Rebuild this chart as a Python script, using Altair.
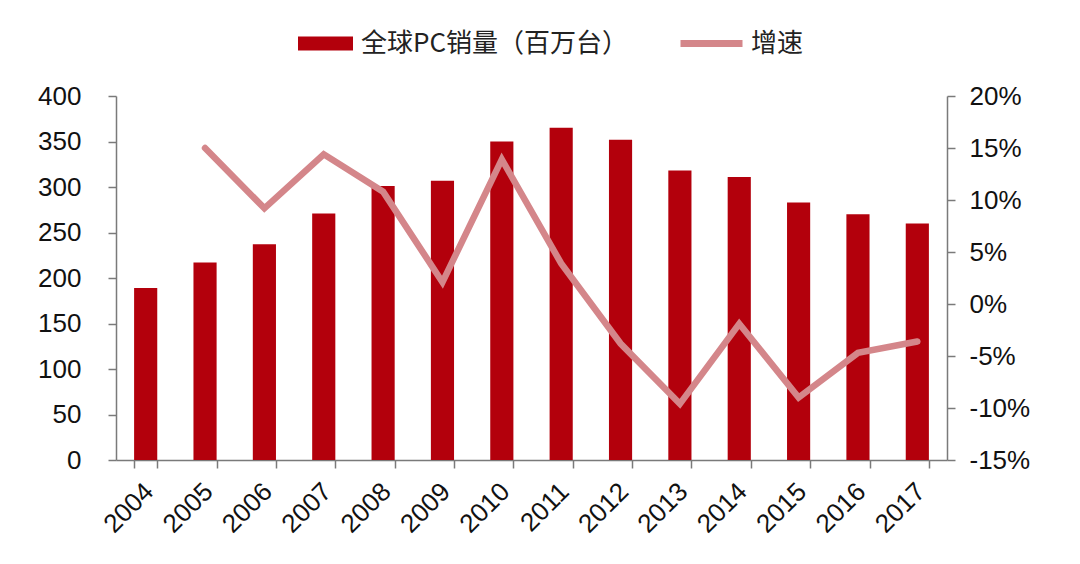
import altair as alt
import pandas as pd

years = ["2004", "2005", "2006", "2007", "2008", "2009", "2010",
         "2011", "2012", "2013", "2014", "2015", "2016", "2017"]
sales = [189, 217, 237, 271, 301, 307, 350, 365, 352, 318, 311, 283, 270, 260]
growth = [None, 15.0, 9.2, 14.4, 10.8, 2.1, 13.9, 3.9, -3.8, -9.6, -1.9, -9.0, -4.7, -3.6]
left_ticks = [0, 50, 100, 150, 200, 250, 300, 350, 400]
right_ticks = [-15, -10, -5, 0, 5, 10, 15, 20]
bar_name = "全球PC销量（百万台）"
line_name = "增速"

BAR_COLOR = "#B3000C"
LINE_COLOR = "#D4868A"
AXIS_COLOR = "#7A7A7A"
NUM_FONT = "Liberation Sans"
CJK_FONT = "Noto Sans CJK SC"

df = pd.DataFrame({"year": years, "sales": sales, "growth": growth})
df["bar_series"] = bar_name
df["line_series"] = line_name

x_enc = alt.X(
    "year:N",
    sort=years,
    scale=alt.Scale(paddingInner=0.61, paddingOuter=0.305),
    axis=alt.Axis(
        title=None, labelAngle=-45, tickBand="extent", labelFontSize=26,
        labelFont=NUM_FONT, labelColor="#111", domainColor=AXIS_COLOR,
        tickColor=AXIS_COLOR, tickSize=8, domainWidth=1.5, tickWidth=1.5,
        labelPadding=10, labelOffset=-6, grid=False, orient="bottom",
    ),
)

bars = alt.Chart(df).mark_bar(color=BAR_COLOR).encode(
    x=x_enc,
    y=alt.Y(
        "sales:Q",
        scale=alt.Scale(domain=[0, 400], nice=False),
        axis=alt.Axis(
            title=None, values=left_ticks, grid=False, labelFontSize=26,
            labelFont=NUM_FONT, labelColor="#111", domainColor=AXIS_COLOR,
            tickColor=AXIS_COLOR, tickSize=8, domainWidth=1.5, tickWidth=1.5,
            labelPadding=27,
        ),
    ),
    color=alt.Color(
        "bar_series:N",
        scale=alt.Scale(domain=[bar_name], range=[BAR_COLOR]),
        legend=alt.Legend(
            title=None, orient="none", legendX=182, legendY=-80,
            symbolType="M-1,-0.255H1V0.255H-1Z", symbolSize=3025,
            symbolStrokeWidth=0, labelFont=CJK_FONT, labelFontSize=26,
            labelColor="#222", labelOffset=8, padding=0, labelLimit=0,
        ),
    ),
)

line = alt.Chart(df).transform_filter("datum.growth != null").mark_line(
    strokeWidth=6.5, strokeCap="round"
).encode(
    x=alt.X("year:N", sort=years),
    y=alt.Y(
        "growth:Q",
        scale=alt.Scale(domain=[-15, 20], nice=False),
        axis=alt.Axis(
            title=None, orient="right", values=right_ticks, grid=False,
            labelExpr="datum.value + '%'", labelFontSize=26,
            labelFont=NUM_FONT, labelColor="#111", domainColor=AXIS_COLOR,
            tickColor=AXIS_COLOR, tickSize=8, domainWidth=1.5, tickWidth=1.5,
            labelPadding=14,
        ),
    ),
    stroke=alt.Stroke(
        "line_series:N",
        scale=alt.Scale(domain=[line_name], range=[LINE_COLOR]),
        legend=alt.Legend(
            title=None, orient="none", legendX=561, legendY=-87,
            symbolType="stroke", symbolSize=3844, symbolStrokeWidth=7,
            labelFont=CJK_FONT, labelFontSize=26, labelColor="#222",
            labelOffset=5, padding=0, labelLimit=0,
        ),
    ),
)

chart = alt.layer(bars, line).resolve_scale(
    y="independent", color="independent", stroke="independent"
).properties(
    width=831, height=364,
    background="white",
    autosize=alt.AutoSizeParams(type="none"),
    padding={"left": 108, "top": 88, "right": 125, "bottom": 100},
).configure_view(stroke=None, strokeWidth=0).configure_axis(grid=False)

chart.save("out.html", embed_options={"renderer": "svg", "actions": False})
